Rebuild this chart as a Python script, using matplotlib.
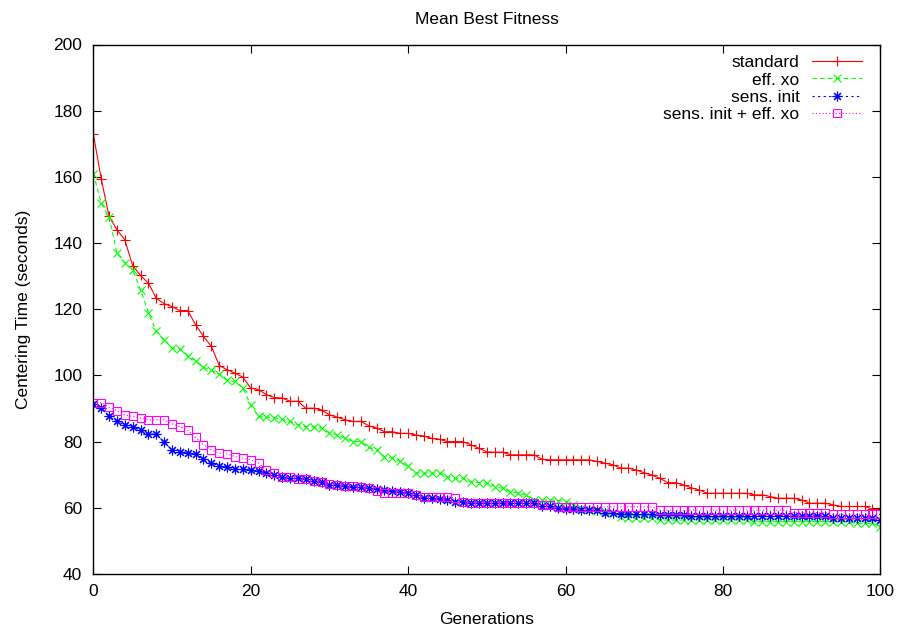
import numpy as np
import matplotlib
matplotlib.use('Agg')
import matplotlib.pyplot as plt

plt.rcParams['font.family'] = ['Liberation Sans', 'DejaVu Sans']

generations = np.arange(0, 101)

standard = [
    173.0, 159.5, 148.1, 144.0, 141.0, 133.2, 130.2, 127.9, 123.3, 121.7,
    120.8, 119.6, 119.6, 115.3, 111.8, 108.8, 103.0, 101.7, 100.7, 99.5,
    96.2, 95.7, 94.2, 93.3, 93.2, 92.2, 92.2, 90.1, 90.1, 89.6,
    88.1, 87.4, 86.6, 86.1, 86.1, 84.8, 84.1, 83.0, 83.0, 82.5,
    82.5, 82.0, 81.7, 81.0, 80.7, 80.0, 80.0, 80.0, 79.0, 78.0,
    76.9, 76.8, 76.8, 76.0, 76.0, 76.0, 76.0, 74.7, 74.5, 74.5,
    74.5, 74.5, 74.5, 74.5, 74.0, 73.5, 73.0, 72.0, 72.0, 71.4,
    70.6, 69.9, 68.9, 67.6, 67.6, 66.9, 66.0, 65.4, 64.4, 64.4,
    64.4, 64.4, 64.4, 64.4, 63.9, 63.9, 63.4, 62.9, 62.9, 62.9,
    62.4, 61.4, 61.4, 61.4, 60.9, 60.4, 60.4, 60.4, 60.4, 59.6,
    59.6,
]

eff_xo = [
    161.0, 152.1, 147.9, 137.0, 134.0, 132.0, 125.9, 119.0, 113.3, 110.8,
    108.3, 108.0, 105.9, 104.4, 102.5, 101.5, 100.5, 98.5, 98.2, 96.2,
    91.1, 87.6, 87.4, 87.2, 86.7, 86.1, 85.1, 84.5, 84.5, 84.1,
    82.7, 82.0, 81.0, 80.0, 80.0, 78.3, 77.5, 75.5, 75.0, 74.0,
    72.5, 70.5, 70.5, 70.5, 70.5, 69.4, 68.9, 68.9, 67.8, 67.6,
    67.4, 66.4, 65.9, 64.9, 64.4, 63.9, 62.4, 62.4, 62.4, 62.2,
    61.9, 60.8, 59.9, 59.4, 59.0, 58.9, 58.4, 57.3, 57.0, 56.8,
    56.8, 56.8, 56.3, 56.3, 56.3, 56.3, 56.3, 56.3, 56.3, 56.3,
    56.3, 56.3, 56.3, 56.3, 55.8, 55.8, 55.8, 55.8, 55.8, 55.8,
    55.8, 55.8, 55.8, 55.8, 55.8, 55.8, 55.8, 55.3, 55.3, 55.3,
    54.3,
]

sens_init = [
    91.4, 90.1, 87.6, 86.1, 85.1, 84.5, 83.5, 82.3, 82.3, 79.8,
    77.5, 77.0, 76.7, 76.3, 74.7, 73.5, 72.7, 72.3, 71.7, 71.7,
    71.5, 71.0, 70.5, 69.9, 69.4, 68.9, 68.9, 68.6, 68.2, 67.9,
    66.9, 66.9, 66.6, 66.4, 66.2, 65.9, 65.6, 65.4, 65.2, 64.9,
    64.4, 63.9, 62.9, 62.9, 62.6, 62.4, 61.9, 61.9, 61.6, 61.4,
    61.4, 61.4, 61.4, 61.4, 61.4, 61.4, 61.4, 60.4, 60.4, 59.9,
    59.6, 59.6, 59.4, 59.4, 59.2, 58.4, 58.4, 58.2, 58.2, 58.1,
    58.1, 58.0, 57.9, 57.8, 57.7, 57.7, 57.6, 57.6, 57.6, 57.6,
    57.6, 57.6, 57.6, 57.6, 57.6, 57.6, 57.6, 57.6, 57.6, 57.6,
    57.6, 57.6, 57.6, 57.6, 56.8, 56.8, 56.8, 56.8, 56.8, 56.8,
    56.3,
]

sens_init_eff_xo = [
    91.6, 91.8, 90.4, 89.4, 88.1, 87.6, 87.1, 86.6, 86.6, 86.6,
    85.4, 84.5, 83.5, 81.3, 79.0, 77.5, 76.5, 76.3, 75.5, 75.0,
    74.5, 73.5, 71.3, 70.4, 69.4, 69.2, 68.6, 68.6, 68.2, 67.9,
    67.2, 66.9, 66.6, 66.6, 66.4, 65.9, 65.2, 64.4, 64.4, 64.4,
    64.4, 63.9, 63.4, 63.4, 63.4, 63.4, 62.9, 61.9, 61.6, 61.6,
    61.6, 61.6, 61.6, 61.6, 61.6, 61.6, 61.6, 60.9, 60.9, 60.3,
    60.3, 60.3, 60.3, 60.3, 60.3, 60.3, 60.3, 60.3, 60.3, 60.3,
    60.3, 60.3, 59.3, 59.3, 59.3, 59.3, 59.3, 59.3, 59.3, 59.3,
    59.3, 59.3, 59.3, 59.3, 59.3, 59.3, 59.3, 59.3, 59.3, 58.5,
    58.5, 58.5, 58.5, 58.5, 58.0, 58.0, 58.0, 58.0, 58.0, 58.0,
    58.0,
]

labels = ['standard', 'eff. xo', 'sens. init', 'sens. init + eff. xo']

fs = 12.5
fig = plt.figure(figsize=(9, 6.31), dpi=100)
ax = fig.add_axes([93.3 / 900, 1 - 574 / 631, (880.3 - 93.3) / 900, (574 - 44.5) / 631])

ax.plot(generations, standard, color='#ff0000', lw=0.8, ls='-',
        marker='+', ms=7, mew=0.8, label=labels[0])
ax.plot(generations, eff_xo, color='#00ff00', lw=0.8, ls=(0, (4, 3)),
        marker='x', ms=6, mew=0.8, label=labels[1])
ax.plot(generations, sens_init, color='#0000ff', lw=0.8, ls=(0, (2, 3)),
        marker=(8, 2, 0), ms=7, mew=0.8, label=labels[2])
ax.plot(generations, sens_init_eff_xo, color='#ff00ff', lw=0.8, ls=(0, (1, 2)),
        marker='s', ms=6, mew=0.8, mfc='none', label=labels[3])

ax.set_xlim(0, 100)
ax.set_ylim(40, 200)
ax.set_xticks(np.arange(0, 101, 20))
ax.set_yticks(np.arange(40, 201, 20))
ax.tick_params(direction='in', length=5.5, width=0.8, top=True, right=True,
               labelsize=fs, colors='black', pad=7)
ax.tick_params(axis='y', pad=8)
for s in ax.spines.values():
    s.set_linewidth(1.0)

ax.set_title('Mean Best Fitness', fontsize=fs, pad=15)
ax.set_xlabel('Generations', fontsize=fs, labelpad=9.5)
ax.set_ylabel('Centering Time (seconds)', fontsize=fs, labelpad=16)

ax.legend(loc='upper right', bbox_to_anchor=(862 / 900, 1 - 55 / 631),
          bbox_transform=fig.transFigure, frameon=False, markerfirst=False,
          numpoints=1, fontsize=fs, handlelength=2.9, handletextpad=0.7,
          labelspacing=0.13, borderpad=0, borderaxespad=0)

fig.savefig('out.png', dpi=100)
